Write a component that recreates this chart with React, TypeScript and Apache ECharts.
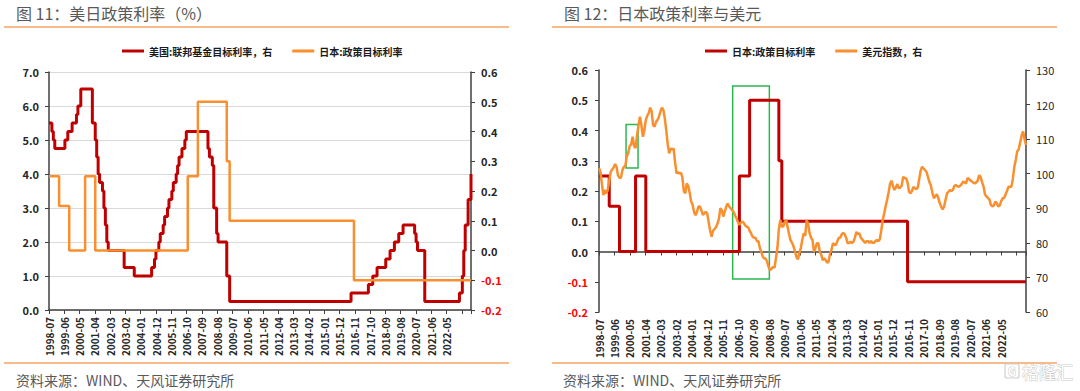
import React, { useEffect, useRef } from 'react';
import * as echarts from 'echarts';

// ---------- data ----------
const START_MONTH = '1998-07';
const END_MONTH = '2022-11';

// x-axis tick labels (one every ~10.6 months, as printed on the chart)
const xTickLabels = [
  '1998-07', '1999-06', '2000-05', '2001-04', '2002-03', '2003-02', '2004-01',
  '2004-12', '2005-11', '2006-10', '2007-09', '2008-08', '2009-07', '2010-06',
  '2011-05', '2012-04', '2013-03', '2014-02', '2015-01', '2015-12', '2016-11',
  '2017-10', '2018-09', '2019-08', '2020-07', '2021-06', '2022-05',
];

// US federal funds target rate (%), month of change -> new level
const fedRateChanges: [string, number][] = [
  ['1998-07', 5.5], ['1998-09', 5.25], ['1998-10', 5.0], ['1998-11', 4.75],
  ['1999-06', 5.0], ['1999-08', 5.25], ['1999-11', 5.5], ['2000-02', 5.75],
  ['2000-03', 6.0], ['2000-05', 6.5], ['2001-01', 5.5], ['2001-03', 5.0],
  ['2001-04', 4.5], ['2001-05', 4.0], ['2001-06', 3.75], ['2001-08', 3.5],
  ['2001-09', 3.0], ['2001-10', 2.5], ['2001-11', 2.0], ['2001-12', 1.75],
  ['2002-11', 1.25], ['2003-06', 1.0], ['2004-06', 1.25], ['2004-08', 1.5],
  ['2004-09', 1.75], ['2004-11', 2.0], ['2004-12', 2.25], ['2005-02', 2.5],
  ['2005-03', 2.75], ['2005-05', 3.0], ['2005-06', 3.25], ['2005-08', 3.5],
  ['2005-09', 3.75], ['2005-11', 4.0], ['2005-12', 4.25], ['2006-01', 4.5],
  ['2006-03', 4.75], ['2006-05', 5.0], ['2006-06', 5.25], ['2007-09', 4.75],
  ['2007-10', 4.5], ['2007-12', 4.25], ['2008-01', 3.0], ['2008-03', 2.25],
  ['2008-04', 2.0], ['2008-10', 1.0], ['2008-12', 0.25], ['2015-12', 0.5],
  ['2016-12', 0.75], ['2017-03', 1.0], ['2017-06', 1.25], ['2017-12', 1.5],
  ['2018-03', 1.75], ['2018-06', 2.0], ['2018-09', 2.25], ['2018-12', 2.5],
  ['2019-08', 2.25], ['2019-09', 2.0], ['2019-10', 1.75], ['2020-03', 0.25],
  ['2022-03', 0.5], ['2022-05', 1.0], ['2022-06', 1.75], ['2022-07', 2.5],
  ['2022-09', 3.25], ['2022-11', 4.0],
];

// Japan policy target rate (%), month of change -> new level
const japanRateChanges: [string, number][] = [
  ['1998-07', 0.25], ['1999-02', 0.15], ['1999-09', 0.0], ['2000-08', 0.25],
  ['2001-03', 0.0], ['2006-07', 0.25], ['2007-02', 0.5], ['2008-10', 0.3],
  ['2008-12', 0.1], ['2016-02', -0.1], ['2022-11', -0.1],
];

// US dollar index, monthly from 1998-07 to 2022-11
const usdIndex = [
  101.6, 100.5, 97.0, 93.8, 95.3, 94.3, // 1998 H2
  95.3, 98.0, 100.5, 101.2, 101.8, 102.8, 102.0, 99.5, 98.8, 98.8, 101.0, 102.0, // 1999
  102.3, 105.0, 106.0, 108.0, 108.5, 110.7, 108.0, 107.4, 111.0, 114.0, 116.5, 114.0, // 2000
  110.7, 112.5, 115.5, 116.8, 117.5, 119.1, 118.0, 114.0, 113.6, 115.0, 115.5, 116.5, // 2001
  118.0, 119.1, 118.5, 116.0, 112.5, 108.5, 105.9, 107.3, 107.0, 107.3, 103.5, 100.1, // 2002
  100.5, 100.0, 100.3, 99.0, 95.0, 94.3, 97.2, 96.5, 94.5, 92.0, 91.0, 89.0, // 2003
  88.0, 89.0, 90.5, 90.5, 89.5, 88.1, 88.5, 89.0, 88.5, 86.0, 83.5, 81.8, // 2004
  83.5, 84.0, 84.5, 85.5, 87.0, 90.0, 89.5, 87.6, 89.0, 90.5, 91.4, 90.5, // 2005
  90.0, 89.5, 89.0, 88.0, 87.1, 86.0, 85.2, 85.8, 86.1, 85.8, 85.0, 84.7, // 2006
  84.5, 83.5, 82.8, 81.8, 81.5, 81.5, 80.5, 80.5, 78.5, 77.4, 76.0, 75.5, // 2007
  75.5, 74.5, 73.0, 72.1, 72.5, 73.1, 72.8, 75.5, 78.5, 84.0, 86.6, 84.7, // 2008
  84.7, 86.0, 86.6, 84.5, 82.5, 80.8, 80.0, 79.0, 77.5, 76.0, 75.2, 77.0, // 2009
  78.5, 80.8, 82.8, 82.0, 86.6, 85.5, 82.8, 81.5, 80.8, 77.4, 78.5, 79.9, // 2010
  79.9, 77.5, 76.5, 75.0, 75.5, 75.0, 74.3, 74.5, 77.0, 78.0, 79.9, 79.5, // 2011
  79.4, 80.5, 81.5, 81.5, 82.5, 82.9, 82.5, 81.5, 79.9, 80.0, 80.3, 80.0, // 2012
  80.3, 81.5, 83.2, 82.5, 82.8, 81.5, 81.0, 80.5, 80.0, 80.5, 80.5, 80.0, // 2013
  80.5, 80.0, 80.0, 80.5, 80.8, 80.5, 81.0, 83.5, 86.6, 88.5, 90.5, 92.4, // 2014
  94.5, 97.0, 98.0, 96.5, 95.3, 96.0, 97.0, 95.8, 96.0, 96.5, 99.1, 98.7, // 2015
  98.7, 97.5, 94.8, 94.3, 95.0, 96.2, 95.8, 95.5, 96.0, 98.5, 101.0, 102.0, // 2016
  101.5, 101.0, 100.5, 99.0, 97.5, 96.5, 94.5, 92.9, 93.5, 94.1, 93.0, 91.5, // 2017
  90.5, 89.7, 90.5, 92.5, 94.3, 94.8, 95.3, 95.0, 95.3, 96.5, 96.7, 96.4, // 2018
  96.2, 96.5, 97.0, 97.7, 97.5, 97.2, 98.7, 98.5, 98.0, 97.8, 97.4, 97.2, // 2019
  97.5, 98.0, 99.6, 99.0, 97.5, 96.2, 94.0, 93.4, 93.0, 92.5, 91.0, 90.5, // 2020
  90.8, 91.9, 91.5, 90.5, 90.8, 92.0, 92.9, 93.0, 94.0, 95.0, 96.2, 96.2, // 2021
  96.2, 98.5, 102.0, 104.0, 106.5, 107.0, 109.0, 111.0, 112.2, 110.0, 108.3, // 2022
];

// green annotation boxes on fig. 12 (month offset from start, rate range)
const highlightBoxes = [
  { from: 18.5, to: 26.7, low: 0.276, high: 0.42 },
  { from: 91.4, to: 116.5, low: -0.091, high: 0.547 },
];

// ---------- helpers ----------
const monthIndex = (ym: string) => {
  const [y, m] = ym.split('-').map(Number);
  const [y0, m0] = START_MONTH.split('-').map(Number);
  return (y - y0) * 12 + (m - m0);
};
const LAST_INDEX = monthIndex(END_MONTH);
const LABEL_STEP = 10.58;

const FONT = '"Noto Sans CJK SC", "Noto Sans", sans-serif';
const RED = '#C00000';
const ORANGE = '#F98F2E';
const RULE = '#F5A565';
const AXIS = '#404040';
const TITLE_GRAY = '#595959';

const stepData = (changes: [string, number][]) => changes.map(([d, v]) => [monthIndex(d), v]);
const fmt1 = (v: number) => (Math.abs(v) < 1e-9 ? '0.0' : Number(v).toFixed(1));
const negRed = (v: any) => (Number(v) < -1e-9 ? '#FF0000' : '#262626');
const xLabelFmt = (v: number) => xTickLabels[Math.round(v / LABEL_STEP)] ?? '';

const axisLine = { show: true, onZero: false, lineStyle: { color: AXIS, width: 1.5 } };
const axisTick = { show: true, length: 4, lineStyle: { color: AXIS, width: 1 } };

const frame = (title: string, titleX: number, x1: number, x2: number, srcX: number) => [
  { type: 'text', x: titleX, y: 13, style: { text: title, fontSize: 16, fill: TITLE_GRAY, fontFamily: FONT, verticalAlign: 'middle' } },
  { type: 'line', shape: { x1, y1: 27, x2, y2: 27 }, style: { stroke: RULE, lineWidth: 1.5 } },
  { type: 'line', shape: { x1, y1: 363, x2, y2: 363 }, style: { stroke: RULE, lineWidth: 1.5 } },
  { type: 'text', x: srcX, y: 380, style: { text: '资料来源：WIND、天风证券研究所', fontSize: 14, fill: TITLE_GRAY, fontFamily: FONT, verticalAlign: 'middle' } },
];

const legendBase = {
  top: 41,
  itemWidth: 22,
  itemHeight: 3,
  itemGap: 20,
  icon: 'rect',
  textStyle: { fontSize: 10, fontWeight: 'bold', color: '#1a1a1a', fontFamily: FONT },
};

const xLabel = { rotate: 90, fontSize: 10, fontWeight: 'bold', color: '#262626', margin: 7, formatter: xLabelFmt, fontFamily: FONT };

const leftOption = {
  animation: false,
  textStyle: { fontFamily: FONT },
  graphic: frame('图 11：美日政策利率（%）', 16, 4, 509, 16),
  legend: { ...legendBase, left: 117, data: ['美国:联邦基金目标利率，右', '日本:政策目标利率'] },
  grid: { left: 49, top: 72, width: 422, height: 238 },
  xAxis: {
    type: 'value', min: 0, max: LAST_INDEX, interval: LABEL_STEP,
    axisLine, axisTick, axisLabel: xLabel, splitLine: { show: false },
  },
  yAxis: [
    {
      type: 'value', min: 0, max: 7, interval: 1, position: 'left',
      axisLine, axisTick,
      axisLabel: { formatter: fmt1, fontSize: 11, fontWeight: 'bold', color: '#262626', margin: 10 },
      splitLine: { show: true, lineStyle: { color: '#D9D9D9', width: 1 } },
    },
    {
      type: 'value', min: -0.2, max: 0.6, interval: 0.1, position: 'right',
      axisLine, axisTick,
      axisLabel: { formatter: fmt1, fontSize: 11, fontWeight: 'bold', color: negRed, margin: 10 },
      splitLine: { show: false },
    },
  ],
  series: [
    {
      name: '美国:联邦基金目标利率，右', type: 'line', step: 'end', yAxisIndex: 0,
      data: stepData(fedRateChanges), showSymbol: false, symbol: 'none',
      lineStyle: { color: RED, width: 3 }, itemStyle: { color: RED },
    },
    {
      name: '日本:政策目标利率', type: 'line', step: 'end', yAxisIndex: 1,
      data: stepData(japanRateChanges), showSymbol: false, symbol: 'none',
      lineStyle: { color: ORANGE, width: 2.5 }, itemStyle: { color: ORANGE },
    },
  ],
};

const rightOption = {
  animation: false,
  textStyle: { fontFamily: FONT },
  graphic: [
    ...frame('图 12：日本政策利率与美元', 24, 12, 517, 23),
    { type: 'rect', shape: { x: 465, y: 364, width: 14, height: 14, r: 2 }, style: { fill: '#fff', stroke: '#D0D0D0', lineWidth: 1.2 } },
    { type: 'text', x: 472, y: 371, style: { text: 'G', fontSize: 11, fontWeight: 'bold', fill: '#fff', stroke: '#C8C8C8', lineWidth: 1, align: 'center', verticalAlign: 'middle', fontFamily: FONT } },
    { type: 'text', x: 482, y: 371, style: { text: '格隆汇', fontSize: 17, fill: '#fff', stroke: '#C8C8C8', lineWidth: 1, verticalAlign: 'middle', fontFamily: FONT } },
  ],
  legend: { ...legendBase, left: 160, data: ['日本:政策目标利率', '美元指数，右'] },
  grid: { left: 59, top: 70, width: 427, height: 242 },
  xAxis: [
    {
      type: 'value', min: 0, max: LAST_INDEX, interval: LABEL_STEP, position: 'bottom',
      axisLine: { show: false, onZero: false }, axisTick: { show: false },
      axisLabel: xLabel, splitLine: { show: false },
    },
    {
      type: 'value', min: 0, max: LAST_INDEX, interval: LABEL_STEP, position: 'bottom',
      axisLine: { show: true, onZero: true, onZeroAxisIndex: 0, lineStyle: { color: AXIS, width: 1.5 } },
      axisTick, axisLabel: { show: false }, splitLine: { show: false },
    },
  ],
  yAxis: [
    {
      type: 'value', min: -0.2, max: 0.6, interval: 0.1, position: 'left',
      axisLine, axisTick,
      axisLabel: { formatter: fmt1, fontSize: 11, fontWeight: 'bold', color: negRed, margin: 11 },
      splitLine: { show: false },
    },
    {
      type: 'value', min: 60, max: 130, interval: 10, position: 'right',
      axisLine, axisTick,
      axisLabel: { fontSize: 11, color: '#262626', margin: 10 },
      splitLine: { show: false },
    },
  ],
  series: [
    {
      name: '日本:政策目标利率', type: 'line', step: 'end', xAxisIndex: 0, yAxisIndex: 0,
      data: stepData(japanRateChanges), showSymbol: false, symbol: 'none',
      lineStyle: { color: RED, width: 3 }, itemStyle: { color: RED },
      markArea: {
        silent: true,
        itemStyle: { color: 'rgba(0,0,0,0)', borderColor: '#2DB84E', borderWidth: 1.5 },
        data: highlightBoxes.map((b) => [
          { xAxis: b.from, yAxis: b.high },
          { xAxis: b.to, yAxis: b.low },
        ]),
      },
    },
    {
      name: '美元指数，右', type: 'line', xAxisIndex: 0, yAxisIndex: 1,
      data: usdIndex.map((v, i) => [i, v]), showSymbol: false, symbol: 'none',
      lineStyle: { color: ORANGE, width: 2.5 }, itemStyle: { color: ORANGE },
    },
  ],
};

function Panel({ option }: { option: any }) {
  const ref = useRef<HTMLDivElement>(null);
  useEffect(() => {
    if (!ref.current) return;
    const chart = echarts.init(ref.current, undefined, { renderer: 'svg' });
    chart.setOption(option);
    return () => chart.dispose();
  }, [option]);
  return <div ref={ref} style={{ width: 540, height: 391 }} />;
}

export default function App() {
  useEffect(() => {
    document.body.style.margin = '0';
  }, []);
  return (
    <div style={{ width: 1080, height: 391, display: 'flex', background: '#fff' }}>
      <Panel option={leftOption} />
      <Panel option={rightOption} />
    </div>
  );
}
